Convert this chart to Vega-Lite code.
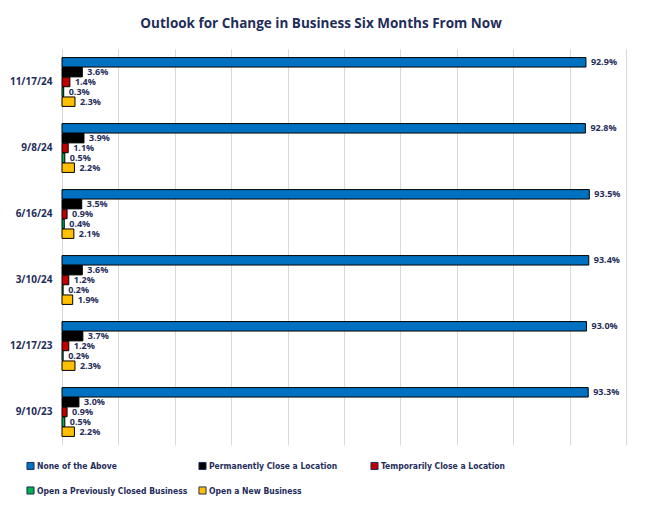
{
  "$schema": "https://vega.github.io/schema/vega-lite/v6.json",
  "width": 564,
  "height": 396,
  "autosize": {"type": "none"},
  "padding": {"left": 62, "top": 49, "right": 20, "bottom": 64},
  "background": "white",
  "title": {
    "text": "Outlook for Change in Business Six Months From Now",
    "font": "Open Sans",
    "fontSize": 13.5,
    "fontWeight": "bold",
    "color": "#1F2D5A",
    "anchor": "middle",
    "dx": -23,
    "offset": 19
  },
  "data": {
    "values": [
      {"date": "11/17/24", "series": "None of the Above", "value": 92.9},
      {"date": "11/17/24", "series": "Permanently Close a Location", "value": 3.6},
      {"date": "11/17/24", "series": "Temporarily Close a Location", "value": 1.4},
      {"date": "11/17/24", "series": "Open a Previously Closed Business", "value": 0.3},
      {"date": "11/17/24", "series": "Open a New Business", "value": 2.3},
      {"date": "9/8/24", "series": "None of the Above", "value": 92.8},
      {"date": "9/8/24", "series": "Permanently Close a Location", "value": 3.9},
      {"date": "9/8/24", "series": "Temporarily Close a Location", "value": 1.1},
      {"date": "9/8/24", "series": "Open a Previously Closed Business", "value": 0.5},
      {"date": "9/8/24", "series": "Open a New Business", "value": 2.2},
      {"date": "6/16/24", "series": "None of the Above", "value": 93.5},
      {"date": "6/16/24", "series": "Permanently Close a Location", "value": 3.5},
      {"date": "6/16/24", "series": "Temporarily Close a Location", "value": 0.9},
      {"date": "6/16/24", "series": "Open a Previously Closed Business", "value": 0.4},
      {"date": "6/16/24", "series": "Open a New Business", "value": 2.1},
      {"date": "3/10/24", "series": "None of the Above", "value": 93.4},
      {"date": "3/10/24", "series": "Permanently Close a Location", "value": 3.6},
      {"date": "3/10/24", "series": "Temporarily Close a Location", "value": 1.2},
      {"date": "3/10/24", "series": "Open a Previously Closed Business", "value": 0.2},
      {"date": "3/10/24", "series": "Open a New Business", "value": 1.9},
      {"date": "12/17/23", "series": "None of the Above", "value": 93.0},
      {"date": "12/17/23", "series": "Permanently Close a Location", "value": 3.7},
      {"date": "12/17/23", "series": "Temporarily Close a Location", "value": 1.2},
      {"date": "12/17/23", "series": "Open a Previously Closed Business", "value": 0.2},
      {"date": "12/17/23", "series": "Open a New Business", "value": 2.3},
      {"date": "9/10/23", "series": "None of the Above", "value": 93.3},
      {"date": "9/10/23", "series": "Permanently Close a Location", "value": 3.0},
      {"date": "9/10/23", "series": "Temporarily Close a Location", "value": 0.9},
      {"date": "9/10/23", "series": "Open a Previously Closed Business", "value": 0.5},
      {"date": "9/10/23", "series": "Open a New Business", "value": 2.2}
    ]
  },
  "encoding": {
    "y": {
      "field": "date",
      "type": "nominal",
      "sort": ["11/17/24", "9/8/24", "6/16/24", "3/10/24", "12/17/23", "9/10/23"],
      "scale": {"paddingInner": 0.26, "paddingOuter": 0.13},
      "axis": {
        "title": null,
        "domain": false,
        "ticks": false,
        "labelFont": "Open Sans",
        "labelFontSize": 10,
        "labelFontWeight": "bold",
        "labelColor": "#1F2D5A",
        "labelPadding": 10
      }
    },
    "yOffset": {
      "field": "series",
      "type": "nominal",
      "sort": ["None of the Above", "Permanently Close a Location", "Temporarily Close a Location", "Open a Previously Closed Business", "Open a New Business"],
      "scale": {"paddingInner": 0.04, "paddingOuter": 0}
    },
    "x": {
      "field": "value",
      "type": "quantitative",
      "scale": {"domain": [0, 100], "nice": false},
      "axis": {
        "title": null,
        "labels": false,
        "ticks": false,
        "domain": false,
        "values": [0, 10, 20, 30, 40, 50, 60, 70, 80, 90, 100],
        "gridColor": "#D9D9D9",
        "gridWidth": 1
      }
    }
  },
  "layer": [
    {
      "mark": {"type": "bar", "stroke": "black", "strokeWidth": 1},
      "encoding": {
        "color": {
          "field": "series",
          "type": "nominal",
          "sort": ["None of the Above", "Permanently Close a Location", "Temporarily Close a Location", "Open a Previously Closed Business", "Open a New Business"],
          "scale": {
            "domain": ["None of the Above", "Permanently Close a Location", "Temporarily Close a Location", "Open a Previously Closed Business", "Open a New Business"],
            "range": ["#0070C0", "#000000", "#C00000", "#00B050", "#FFC000"]
          },
          "legend": {
            "orient": "none",
            "legendX": -36,
            "legendY": 412,
            "direction": "horizontal",
            "columns": 3,
            "title": null,
            "symbolType": "square",
            "symbolSize": 50,
            "symbolStrokeColor": "#1F2D5A",
            "symbolStrokeWidth": 1,
            "labelFont": "DejaVu Sans Condensed",
            "labelFontSize": 8.5,
            "labelFontWeight": "bold",
            "labelColor": "#1F2D5A",
            "labelLimit": 300,
            "labelOffset": 2,
            "gridAlign": "all",
            "columnPadding": 8,
            "rowPadding": 12,
            "symbolOffset": 0
          }
        }
      }
    },
    {
      "transform": [
        {"calculate": "format(datum.value, '.1f') + '%'", "as": "label"}
      ],
      "mark": {
        "type": "text",
        "align": "left",
        "baseline": "middle",
        "dx": 5,
        "font": "Open Sans",
        "fontSize": 9,
        "fontWeight": "bold",
        "color": "#1F2D5A"
      },
      "encoding": {
        "text": {"field": "label", "type": "nominal"}
      }
    }
  ],
  "config": {
    "view": {"stroke": null}
  }
}
